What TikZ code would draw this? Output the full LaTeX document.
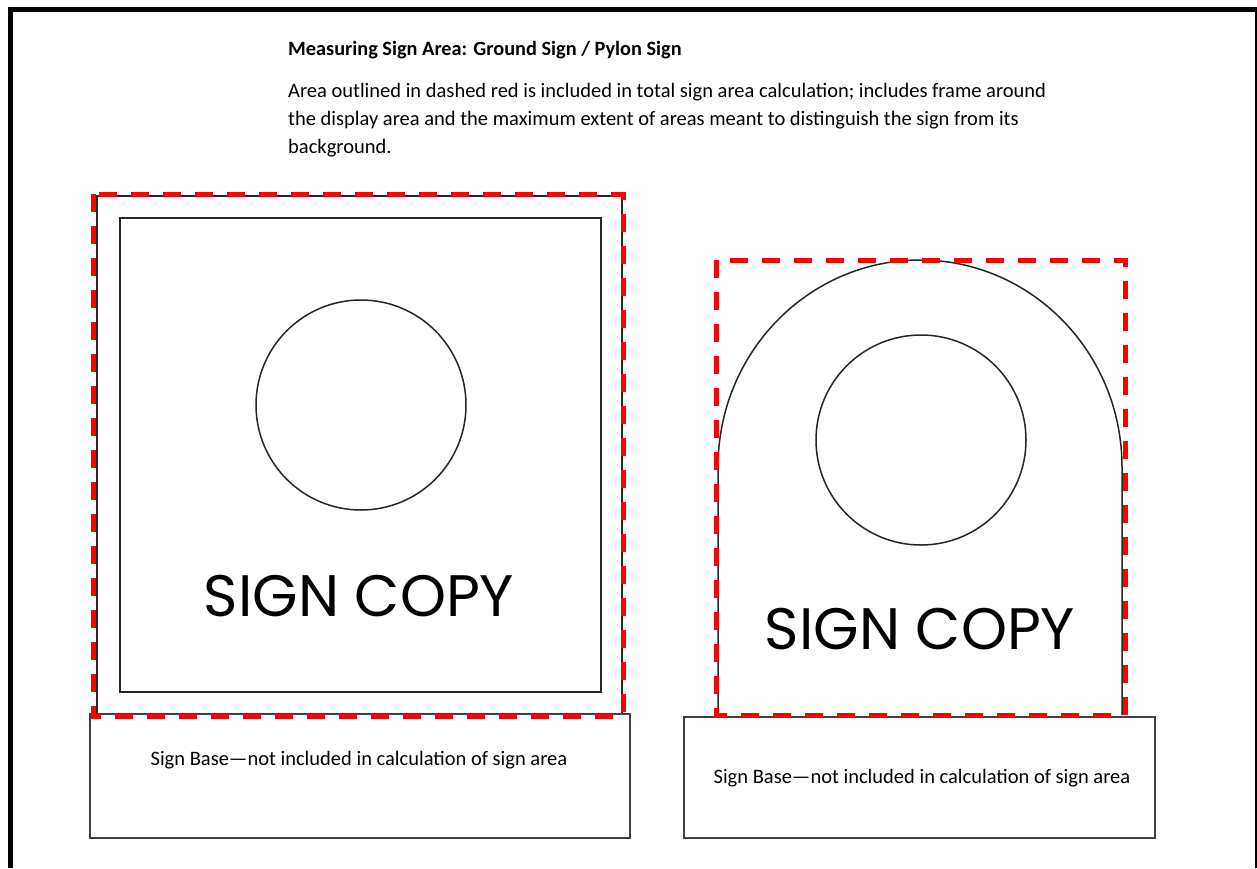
\documentclass[tikz,border=0pt]{standalone}
\usepackage{fontspec}
\setmainfont{Carlito}
\newfontfamily\geofont{Poppins}
\begin{document}
\begin{tikzpicture}[x=1pt,y=-1pt,
  outline/.style={draw=black!85, line width=1.5pt},
  basebox/.style={draw=black!75, line width=2pt},
  reddash/.style={draw=red, line width=5pt, dash pattern=on 18pt off 14pt},
  frameline/.style={draw=black, line width=5pt},
  body/.style={font=\fontsize{20.5}{28}\selectfont, anchor=base west, inner sep=0pt},
  signcopy/.style={font=\geofont\fontsize{58.5}{60}\selectfont, inner sep=0pt},
  basetext/.style={font=\fontsize{20.5}{24}\selectfont, anchor=base, inner sep=0pt}]
\useasboundingbox (0,0) rectangle (1257,868);
\fill[white] (0,0) rectangle (1257,868);
% page frame
\draw[frameline] (10.5,868) -- (10.5,9) -- (1257,9);
\draw[black, line width=2pt] (1255.5,9) -- (1255.5,868);
% header text
\node[body, font=\bfseries\fontsize{20.3}{22}\selectfont] (title) at (288,55) {Measuring Sign Area: Ground Sign / Pylon Sign};
\node[body] (para1) at (288,97) {Area outlined in dashed red is included in total sign area calculation; includes frame around};
\node[body] (para2) at (288,125) {the display area and the maximum extent of areas meant to distinguish the sign from its};
\node[body] (para3) at (288,153) {background.};
% left sign
\draw[outline] (97,196) rectangle (622,714);
\draw[outline] (120,218) rectangle (601,692);
\node[circle, outline, minimum size=210pt, inner sep=0pt] (lcirc) at (361,405) {};
\node[signcopy] (lcopy) at (359,596) {SIGN COPY};
\draw[basebox] (90,714) rectangle (630,838);
\node[basetext] (lbase) at (359,765) {Sign Base—not included in calculation of sign area};
\draw[reddash] (93,194) rectangle (623,716);
% right sign
\draw[outline] (718,715) -- (718,467) arc[start angle=180, end angle=0, x radius=202, y radius=-207] -- (1122,715);
\node[circle, outline, minimum size=210pt, inner sep=0pt] (rcirc) at (921,440) {};
\node[signcopy] (rcopy) at (920,629) {SIGN COPY};
\draw[basebox] (684,717) rectangle (1155,838);
\node[basetext] (rbase) at (922,783) {Sign Base—not included in calculation of sign area};
\draw[reddash] (716,260) rectangle (1125,715);
\end{tikzpicture}
\end{document}
